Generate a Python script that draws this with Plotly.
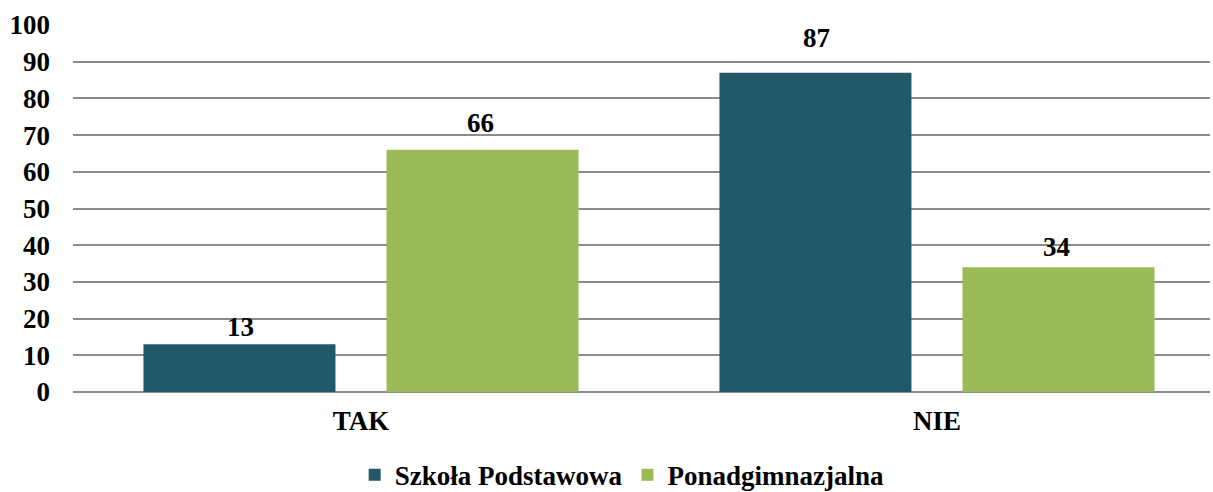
import plotly.graph_objects as go

categories = ["TAK", "NIE"]
series_names = ["Szkoła Podstawowa", "Ponadgimnazjalna"]
szkola = [13, 87]
ponad = [66, 34]
y_ticks = [0, 10, 20, 30, 40, 50, 60, 70, 80, 90, 100]

# label placement (style): pixel lift of each data label above its bar
label_lift = {"Szkoła Podstawowa": [17, 35], "Ponadgimnazjalna": [27, 20]}
bar_shift = {"Szkoła Podstawowa": -120, "Ponadgimnazjalna": 120}

FONT = "Liberation Serif"
colors = ["#215968", "#9BBB59"]
bold = dict(family=FONT, size=27, color="black", weight="bold")

fig = go.Figure()
for name, vals, col in zip(series_names, [szkola, ponad], colors):
    fig.add_trace(go.Bar(
        x=categories, y=vals, name=name, marker=dict(color=col, line=dict(width=0)),
    ))
    for c, v, lift in zip(categories, vals, label_lift[name]):
        fig.add_annotation(x=c, y=v, xref="x", yref="y", text=str(v), showarrow=False,
                           xshift=bar_shift[name], yshift=lift, yanchor="middle", font=bold)

fig.update_layout(
    width=1213, height=492,
    margin=dict(l=73, r=3, t=25, b=100, autoexpand=False),
    paper_bgcolor="white", plot_bgcolor="white",
    barmode="group", bargap=0.156, bargroupgap=0.21,
    font=bold,
    showlegend=True,
    legend=dict(orientation="h", x=0.483, xanchor="center", y=-0.16, yanchor="top",
                font=bold, itemwidth=30, traceorder="normal"),
    xaxis=dict(type="category", range=[-0.5, 1.474], showgrid=False, showline=False,
               ticks="", automargin=False, ticklabelstandoff=10, tickfont=bold),
    yaxis=dict(range=[0, 100], tickvals=y_ticks, showgrid=True, gridcolor="#8C8C8C",
               gridwidth=1.5, zeroline=True, zerolinecolor="#8C8C8C", zerolinewidth=1.5,
               showline=False, ticks="", ticklabelstandoff=22, automargin=False,
               tickfont=bold),
)

fig.write_html("out.html", config={"displayModeBar": False},
               post_script="document.body.style.margin='0';document.body.style.overflow='hidden';")
